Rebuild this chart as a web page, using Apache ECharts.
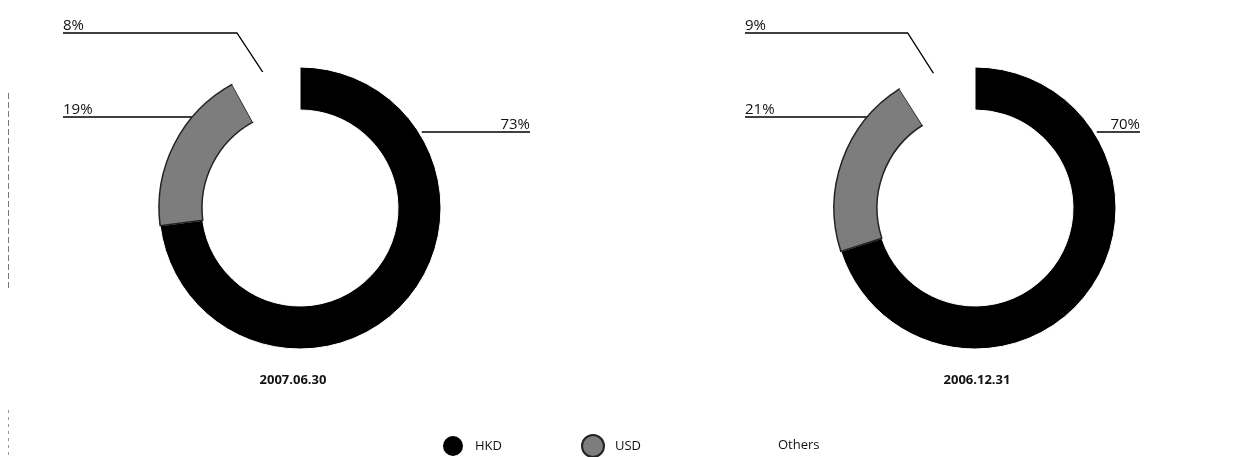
<!DOCTYPE html>
<html>
<head>
<meta charset="UTF-8">
<title>Currency mix</title>
<script src="https://cdn.jsdelivr.net/npm/echarts@6/dist/echarts.min.js"></script>
<style>
  html, body { margin: 0; padding: 0; background: #fff; }
  #chart { width: 1253px; height: 457px; }
</style>
</head>
<body>
<div id="chart"></div>
<script>
// data
const categories = ['HKD', 'USD', 'Others'];
const dates = ['2007.06.30', '2006.12.31'];
const share2007 = [73, 19, 8];
const share2006 = [70, 21, 9];

const colors = ['#000000', '#7d7d7d', '#ffffff'];
const R_IN = 98, R_OUT = 141;

// layout of each donut (pixels)
const pies = [
  { values: share2007, date: dates[0], center: [300, 208], left: 63, right: 530, dateX: 293 },
  { values: share2006, date: dates[1], center: [975, 208], left: 745, right: 1140, dateX: 977 }
];

// label lines: horizontal rule with the value sitting on top of it
function layoutFor(p) {
  return function (params) {
    const cx = p.center[0], cy = p.center[1];
    const i = params.dataIndex;
    let y, pts, x, align;
    if (i === 0) {
      y = cy - 76;
      const dx = Math.sqrt(R_OUT * R_OUT - 76 * 76);
      pts = [[cx + dx + 3, y], [cx + dx + 3, y], [p.right, y]];
      x = p.right; align = 'right';
    } else if (i === 1) {
      y = cy - 91;
      const dx = Math.sqrt(R_OUT * R_OUT - 91 * 91);
      pts = [[cx - dx, y], [cx - dx, y], [p.left, y]];
      x = p.left; align = 'left';
    } else {
      y = cy - 175;
      const a = params.labelLinePoints[0];
      pts = [[a[0] - 2, a[1] + 1], [a[0] - 28, y], [p.left, y]];
      x = p.left; align = 'left';
    }
    return { x: x, y: y, align: align, verticalAlign: 'bottom', labelLinePoints: pts };
  };
}

const chart = echarts.init(document.getElementById('chart'));

const series = pies.map(function (p) {
  return {
    type: 'pie',
    center: p.center,
    radius: [R_IN, R_OUT],
    startAngle: 90,
    clockwise: true,
    silent: true,
    animation: false,
    data: categories.map(function (name, k) {
      const item = { name: name, value: p.values[k], itemStyle: { color: colors[k] } };
      if (k === 0) item.itemStyle.borderColor = '#fff', item.itemStyle.borderWidth = 1;
      if (k === 1) item.itemStyle.borderColor = '#222', item.itemStyle.borderWidth = 1.5;
      return item;
    }),
    label: {
      show: true,
      position: 'outside',
      formatter: '{c}%',
      fontFamily: 'Open Sans',
      fontSize: 15,
      color: '#111'
    },
    labelLine: { show: true, lineStyle: { color: '#000', width: 1.3 } },
    labelLayout: layoutFor(p)
  };
});

const legendX = [436, 576, 740];

chart.setOption({
  backgroundColor: '#fff',
  legend: categories.map(function (name, k) {
    return {
      data: [name],
      left: legendX[k],
      top: 429,
      icon: 'circle',
      itemWidth: 22,
      itemHeight: 22,
      itemGap: 0,
      selectedMode: false,
      textStyle: { fontFamily: 'Open Sans', fontSize: 13, color: '#111', padding: [0, 0, 0, 6] }
    };
  }),
  graphic: [
    { type: 'line', shape: { x1: 8.5, y1: 93, x2: 8.5, y2: 290 },
      style: { stroke: '#777', lineWidth: 1, lineDash: [6, 3] } },
    { type: 'line', shape: { x1: 8.5, y1: 410, x2: 8.5, y2: 455 },
      style: { stroke: '#999', lineWidth: 1, lineDash: [3, 4] } }
  ].concat(pies.map(function (p) {
    return {
      type: 'text',
      x: p.dateX,
      y: 380,
      style: {
        text: p.date, align: 'center', verticalAlign: 'middle',
        font: 'bold 13px "Open Sans"', fill: '#111'
      }
    };
  })),
  series: series
});
</script>
</body>
</html>
